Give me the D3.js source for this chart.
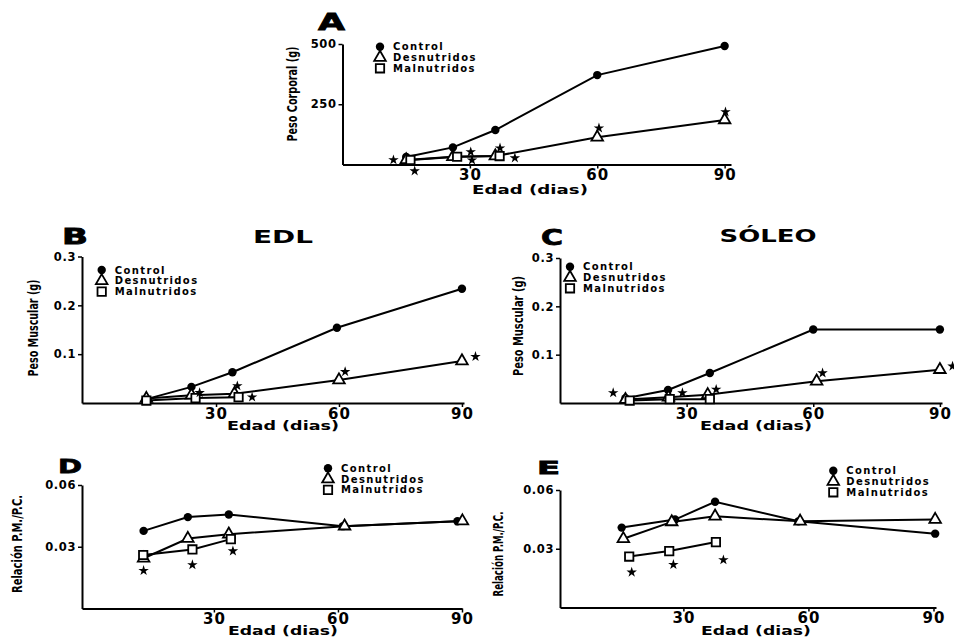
<!DOCTYPE html>
<html>
<head>
<meta charset="utf-8">
<script src="https://cdn.jsdelivr.net/npm/d3@7"></script>
<style>
  body { margin: 0; background: #fff; }
</style>
</head>
<body>
<svg id="chart" width="954" height="638"></svg>
<script>
// series names (legend)
const seriesNames = ["Control", "Desnutridos", "Malnutridos"];

// A - peso corporal (g) vs edad (dias)
const aControl = [[15, 31], [26, 71], [36, 143], [60, 371], [90, 492]];
const aDesnut  = [[15, 19], [26, 32], [36, 35], [60, 113], [90, 185]];
const aMalnut  = [[16, 19], [27, 32], [37, 35]];
const aStars   = [[12, 19], [17, -27], [30.2, 52], [30.5, 18], [37.1, 68], [40.6, 27], [60.4, 151], [90.2, 218]];

// B - EDL, peso muscular (g)
const bControl = [[13, 0.008], [24, 0.033], [34, 0.063], [59.5, 0.154], [90, 0.234]];
const bDesnut  = [[13, 0.009], [24, 0.016], [34.5, 0.019], [60, 0.047], [90, 0.086]];
const bMalnut  = [[13, 0.005], [25, 0.010], [35.5, 0.012]];
const bStars   = [[26, 0.021], [35.2, 0.035], [38.8, 0.012], [61.5, 0.064], [93.3, 0.095]];

// C - SOLEO, peso muscular (g)
const cControl = [[15.5, 0.0097], [25.6, 0.027], [35.5, 0.062], [60, 0.152], [90, 0.152]];
const cDesnut  = [[15.5, 0.007], [25.7, 0.012], [35, 0.017], [60.8, 0.045], [90, 0.069]];
const cMalnut  = [[16.5, 0.005], [26, 0.008], [35.5, 0.008]];
const cStars   = [[12.6, 0.021], [29, 0.021], [37, 0.028], [62.2, 0.062], [93, 0.076]];

// D - relacion P.M./P.C. (EDL)
const dControl = [[13, 0.0377], [23.7, 0.0444], [33.6, 0.0457], [61.2, 0.0400], [88.9, 0.0424]];
const dDesnut  = [[13, 0.0244], [23.7, 0.0340], [33.6, 0.0361], [61.6, 0.0400], [90.1, 0.0425]];
const dMalnut  = [[12.9, 0.0260], [24.8, 0.0287], [34.1, 0.0337]];
const dStars   = [[13, 0.0184], [24.8, 0.0212], [34.6, 0.0279]];

// E - relacion P.M./P.C. (soleo)
const eControl = [[15.2, 0.0408], [28, 0.0449], [37.6, 0.0540], [57.6, 0.0440], [90.4, 0.0377]];
const eDesnut  = [[15.6, 0.0351], [27.2, 0.0437], [37.6, 0.0466], [58, 0.0440], [90.4, 0.0449]];
const eMalnut  = [[17, 0.0260], [26.6, 0.0288], [37.8, 0.0334]];
const eStars   = [[17.6, 0.0180], [27.6, 0.0219], [39.6, 0.0243]];

const xTickValues = [30, 60, 90];

const panels = [
  {letter: "A", lx: 318, ly: 30, lw: 27, lsize: 23, title: null,
   xDomain: [0, 91.5], xRange: [342.5, 731], yDomain: [0, 500], yRange: [164.5, 44],
   yTicks: [250, 500], yFmt: d3.format("d"),
   series: [aControl, aDesnut, aMalnut], stars: aStars,
   legend: [380, 46.7], yLabel: ["Peso Corporal (g)", 292, 94, 95], xLabel: [530, 194, 116]},
  {letter: "B", lx: 62, ly: 244, lw: 26, lsize: 22, title: ["EDL", 283, 243, 60],
   xDomain: [-2.7, 90.5], xRange: [82, 464], yDomain: [0, 0.3], yRange: [403, 256.5],
   yTicks: [0.1, 0.2, 0.3], yFmt: d3.format(".1f"),
   series: [bControl, bDesnut, bMalnut], stars: bStars,
   legend: [101.7, 270], yLabel: ["Peso Muscular (g)", 33, 328, 97], xLabel: [283, 430, 112]},
  {letter: "C", lx: 541, ly: 245, lw: 22, lsize: 22, title: ["SÓLEO", 768, 242, 97],
   xDomain: [0, 90.5], xRange: [560, 942], yDomain: [0, 0.3], yRange: [403, 258],
   yTicks: [0.1, 0.2, 0.3], yFmt: d3.format(".1f"),
   series: [cControl, cDesnut, cMalnut], stars: cStars,
   legend: [570, 266.7], yLabel: ["Peso Muscular (g)", 518, 326, 100], xLabel: [756, 430, 112]},
  {letter: "D", lx: 58, ly: 473, lw: 24, lsize: 20, title: null,
   xDomain: [-1.9, 90], xRange: [82, 462], yDomain: [0, 0.06], yRange: [608.5, 485],
   yTicks: [0.03, 0.06], yFmt: d3.format(".2f"),
   series: [dControl, dDesnut, dMalnut], stars: dStars,
   legend: [328, 468.3], yLabel: ["Relación P.M./P.C.", 17, 544, 98], xLabel: [283, 634.5, 110]},
  {letter: "E", lx: 537, ly: 474, lw: 23, lsize: 18, title: null,
   xDomain: [0.4, 90.6], xRange: [560, 936], yDomain: [0, 0.06], yRange: [607.5, 490],
   yTicks: [0.03, 0.06], yFmt: d3.format(".2f"),
   series: [eControl, eDesnut, eMalnut], stars: eStars,
   legend: [833.3, 470.7], yLabel: ["Relación P.M./P.C.", 498, 554, 85], xLabel: [756, 634.5, 110]}
];

const svg = d3.select("#chart");
const font = "'DejaVu Sans', sans-serif";
const narrow = "'Liberation Sans Narrow', 'DejaVu Sans Condensed', 'Liberation Sans', sans-serif";

const symTri = d3.symbol(d3.symbolTriangle, 58);
const symSq = d3.symbol(d3.symbolSquare, 70);
const symStar = d3.symbol(d3.symbolStar, 34);

function marker(sel, i) {
  if (i === 0) {
    sel.append("circle").attr("r", 4.2).attr("fill", "#000");
  } else {
    sel.append("path").attr("d", i === 1 ? symTri() : symSq())
      .attr("fill", "#fff").attr("stroke", "#000").attr("stroke-width", 1.8);
  }
}

panels.forEach(p => {
  const g = svg.append("g");
  const x = d3.scaleLinear().domain(p.xDomain).range(p.xRange);
  const y = d3.scaleLinear().domain(p.yDomain).range(p.yRange);

  // y axis
  const ya = g.append("g")
    .attr("transform", `translate(${p.xRange[0]},0)`)
    .call(d3.axisLeft(y).tickValues(p.yTicks).tickFormat(p.yFmt).tickSize(4).tickSizeOuter(0).tickPadding(2));
  ya.select(".domain").attr("stroke-width", 2);
  ya.selectAll(".tick line").attr("stroke-width", 1.5);
  ya.selectAll(".tick text").attr("font-family", font).attr("font-weight", "bold")
    .attr("font-size", 11.5).attr("letter-spacing", 0.6).attr("fill", "#000");

  // x axis
  const xa = g.append("g")
    .attr("transform", `translate(0,${p.yRange[0]})`)
    .call(d3.axisBottom(x).tickValues(xTickValues).tickSize(4).tickSizeOuter(0).tickPadding(1));
  xa.select(".domain").attr("stroke-width", 2);
  xa.selectAll(".tick line").attr("stroke-width", 1.5);
  xa.selectAll(".tick text").attr("font-family", font).attr("font-weight", "bold")
    .attr("font-size", 15).attr("letter-spacing", 1).attr("fill", "#000");

  // axis titles
  g.append("text")
    .attr("transform", `translate(${p.yLabel[1]},${p.yLabel[2]}) rotate(-90)`)
    .attr("text-anchor", "middle").attr("dy", "0.35em")
    .attr("font-family", narrow).attr("font-weight", "bold").attr("font-size", 14)
    .attr("textLength", p.yLabel[3]).attr("lengthAdjust", "spacingAndGlyphs")
    .text(p.yLabel[0]);
  g.append("text")
    .attr("x", p.xLabel[0] - p.xLabel[2] / 2).attr("y", p.xLabel[1])
    .attr("font-family", font).attr("font-weight", "bold").attr("font-size", 12.5)
    .attr("textLength", p.xLabel[2]).attr("lengthAdjust", "spacingAndGlyphs")
    .text("Edad (dias)");

  // panel letter and title
  g.append("text")
    .attr("x", p.lx).attr("y", p.ly)
    .attr("font-family", font).attr("font-weight", "bold").attr("font-size", p.lsize)
    .attr("stroke", "#000").attr("stroke-width", 0.8)
    .attr("textLength", p.lw).attr("lengthAdjust", "spacingAndGlyphs")
    .text(p.letter);
  if (p.title) {
    g.append("text")
      .attr("x", p.title[1] - p.title[3] / 2).attr("y", p.title[2])
      .attr("font-family", font).attr("font-weight", "bold").attr("font-size", 18)
      .attr("textLength", p.title[3]).attr("lengthAdjust", "spacingAndGlyphs")
      .text(p.title[0]);
  }

  // lines
  const line = d3.line().x(d => x(d[0])).y(d => y(d[1]));
  g.selectAll("path.series")
    .data(p.series)
    .enter()
    .append("path")
    .attr("class", "series")
    .attr("d", line)
    .attr("fill", "none")
    .attr("stroke", "#000")
    .attr("stroke-width", 2);

  // markers
  p.series.forEach((s, i) => {
    g.selectAll(null)
      .data(s)
      .enter()
      .append("g")
      .attr("transform", d => `translate(${x(d[0])},${y(d[1])})`)
      .each(function() { marker(d3.select(this), i); });
  });

  // significance stars
  g.selectAll("path.star")
    .data(p.stars)
    .enter()
    .append("path")
    .attr("class", "star")
    .attr("d", symStar())
    .attr("transform", d => `translate(${x(d[0])},${y(d[1])})`)
    .attr("fill", "#000");

  // legend
  const lg = g.append("g").attr("transform", `translate(${p.legend[0]},${p.legend[1]})`);
  seriesNames.forEach((name, i) => {
    const row = lg.append("g").attr("transform", `translate(0,${i * 10.8})`);
    marker(row, i);
    row.append("text")
      .attr("x", 13).attr("dy", "0.35em")
      .attr("font-family", font).attr("font-weight", "bold").attr("font-size", 10)
      .attr("letter-spacing", 1.4)
      .text(name);
  });
});
</script>
</body>
</html>
